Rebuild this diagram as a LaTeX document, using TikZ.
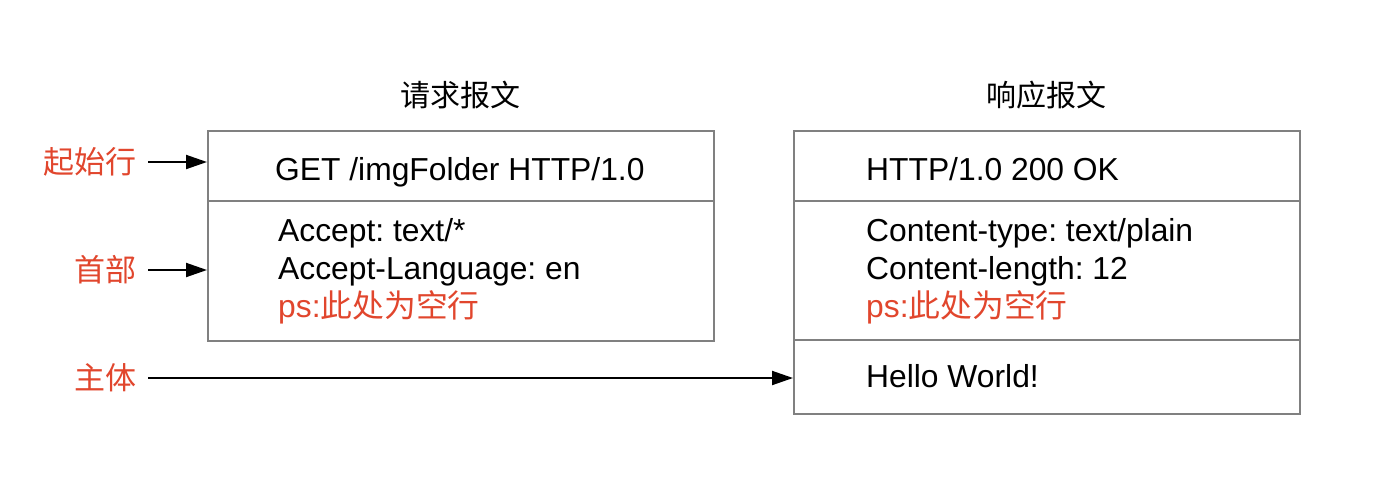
\documentclass[tikz,border=0pt]{standalone}
\usepackage{fontspec}
\setmainfont{Liberation Sans}
\newfontfamily\cjk{Noto Sans CJK SC}
\usetikzlibrary{arrows.meta}
\definecolor{lbl}{RGB}{225,70,45}
\definecolor{boxgray}{RGB}{128,128,128}
\frenchspacing
\begin{document}
\begin{tikzpicture}[x=1pt,y=-1pt,
  box/.style={draw=boxgray, line width=2pt, anchor=north west, inner sep=0pt, minimum width=506pt},
  lab/.style={text=lbl, font=\cjk\fontsize{31}{31}\selectfont, anchor=east, inner sep=0pt},
  ttl/.style={font=\cjk\fontsize{30}{30}\selectfont, inner sep=0pt},
  txt/.style={anchor=base west, inner sep=0pt, font=\fontsize{31.8}{32}\selectfont},
  red/.style={text=lbl},
  arr/.style={-{Triangle[length=21pt,width=14pt]}, line width=2pt}]
\useasboundingbox (0,0) rectangle (1394,496);
% boxes
\node[box, minimum height=70pt] (req1) at (207,130) {};
\node[box, minimum height=140pt] (req2) at (207,200) {};
\node[box, minimum height=70pt] (res1) at (793,130) {};
\node[box, minimum height=139pt] (res2) at (793,200) {};
\node[box, minimum height=74pt] (res3) at (793,339) {};
% titles
\node[ttl] (t1) at (460,95) {请求报文};
\node[ttl] (t2) at (1046,95) {响应报文};
% request text
\node[txt] (g) at (275,180) {GET /imgFolder HTTP/1.0};
\node[txt] (a1) at (278,241) {Accept: text/*};
\node[txt] (a2) at (278,279) {Accept-Language: en};
\node[txt, red] (a3) at (278,317) {ps:{\cjk 此处为空行}};
% response text
\node[txt] (h) at (866,180) {HTTP/1.0 200 OK};
\node[txt] (c1) at (866,241) {Content-type: text/plain};
\node[txt] (c2) at (866,279) {Content-length: 12};
\node[txt, red] (c3) at (866,317) {ps:{\cjk 此处为空行}};
\node[txt] (hw) at (866,387) {Hello World!};
% labels
\node[lab] (l1) at (137,162) {起始行};
\node[lab] (l2) at (137,270) {首部};
\node[lab] (l3) at (137,378) {主体};
% arrows
\draw[arr] ([xshift=11pt]l1.east) -- (l1.east -| req1.west);
\draw[arr] ([xshift=11pt]l2.east) -- (l2.east -| req2.west);
\draw[arr] ([xshift=11pt]l3.east) -- (l3.east -| res3.west);
\end{tikzpicture}
\end{document}
